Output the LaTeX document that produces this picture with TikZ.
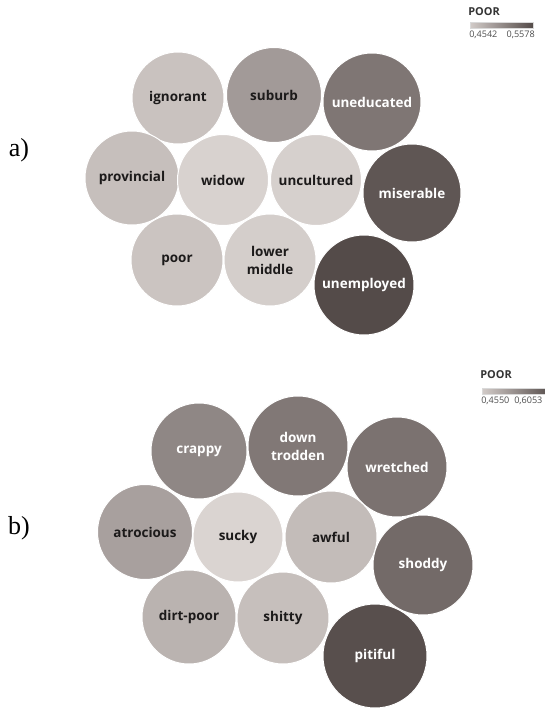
\documentclass[tikz,border=0pt]{standalone}
\usepackage{fontspec}
\setmainfont{Liberation Serif}
\newfontfamily\labfont{Open Sans}

% bubble fills, panel a
\definecolor{cIgn}{HTML}{C9C2BF}
\definecolor{cSub}{HTML}{A29A98}
\definecolor{cUne}{HTML}{7F7674}
\definecolor{cPro}{HTML}{C6BFBC}
\definecolor{cWid}{HTML}{D8D2CF}
\definecolor{cUnc}{HTML}{D6D0CD}
\definecolor{cMis}{HTML}{5F5654}
\definecolor{cPoo}{HTML}{CBC4C1}
\definecolor{cLow}{HTML}{D4CECB}
\definecolor{cUnm}{HTML}{544B49}
% bubble fills, panel b
\definecolor{cCra}{HTML}{8F8785}
\definecolor{cDow}{HTML}{817876}
\definecolor{cWre}{HTML}{7B7270}
\definecolor{cAtr}{HTML}{A8A09E}
\definecolor{cSuc}{HTML}{DAD4D1}
\definecolor{cAwf}{HTML}{C3BCB9}
\definecolor{cSho}{HTML}{736A68}
\definecolor{cDir}{HTML}{BAB3B0}
\definecolor{cShi}{HTML}{C6BFBC}
\definecolor{cPit}{HTML}{584F4D}
% legend
\definecolor{gLight}{HTML}{D2CBC8}
\definecolor{gDark}{HTML}{544B49}
\definecolor{darktext}{HTML}{1C1A1A}

\begin{document}
\begin{tikzpicture}[x=0.75pt,y=-0.75pt,
  bub/.style={circle, inner sep=0pt, minimum size=#1*1.5pt, draw=white,
    line width=0.75pt, align=center,
    font=\labfont\bfseries\fontsize{10.1}{13.5}\selectfont},
  dk/.style={text=darktext},
  lt/.style={text=white},
  panel/.style={font=\fontsize{19.5}{21}\selectfont, inner sep=0pt},
  legtitle/.style={anchor=west, inner sep=0pt, text=black!80,
    font=\labfont\bfseries\fontsize{8.2}{9}\selectfont},
  legnum/.style={inner sep=0pt, text=black!70,
    font=\labfont\fontsize{6.8}{8}\selectfont},
  legbar/.style={rectangle, inner sep=0pt, minimum width=63*0.75pt,
    minimum height=6*0.75pt, left color=gLight, right color=gDark,
    draw=black!15, line width=0.3pt},
]
\useasboundingbox (0,0) rectangle (544,711);

% ---- panel a ----
\node[panel] (la) at (19,150) {a)};

\node[bub=46,   fill=cIgn, dk] (ignorant)   at (178,98)  {ignorant};
\node[bub=47.5, fill=cSub, dk] (suburb)     at (274,95)  {suburb};
\node[bub=49,   fill=cUne, lt] (uneducated) at (372,102) {uneducated};
\node[bub=47,   fill=cPro, dk] (provincial) at (132,178) {provincial};
\node[bub=45.5, fill=cWid, dk] (widow)      at (223,180) {widow};
\node[bub=45.5, fill=cUnc, dk] (uncultured) at (316,180) {uncultured};
\node[bub=49,   fill=cMis, lt] (miserable)  at (412,193) {miserable};
\node[bub=46,   fill=cPoo, dk] (poor)       at (177,260) {poor};
\node[bub=46,   fill=cLow, dk] (lowmid)     at (270,260) {lower\\middle};
\node[bub=50,   fill=cUnm, lt] (unemployed) at (364,285) {unemployed};

\node[legtitle] (ta) at (468,12) {POOR};
\node[legbar] (ba) at (501.5,25) {};
\node[legnum, anchor=west] (loa) at (469,35) {0,4542};
\node[legnum, anchor=east] (hia) at (535,35) {0,5578};

% ---- panel b ----
\node[panel] (lb) at (19,528) {b)};

\node[bub=48,   fill=cCra, lt] (crappy)    at (199,451) {crappy};
\node[bub=50,   fill=cDow, lt] (downtrod)  at (298,446) {down\\trodden};
\node[bub=50,   fill=cWre, lt] (wretched)  at (397,467) {wretched};
\node[bub=47.5, fill=cAtr, dk] (atrocious) at (145,532) {atrocious};
\node[bub=45,   fill=cSuc, dk] (sucky)     at (238,537) {sucky};
\node[bub=46,   fill=cAwf, dk] (awful)     at (331,537) {awful};
\node[bub=50,   fill=cSho, lt] (shoddy)    at (423,565) {shoddy};
\node[bub=47,   fill=cDir, dk] (dirtpoor)  at (189,617) {dirt-poor};
\node[bub=46,   fill=cShi, dk] (shitty)    at (283,618) {shitty};
\node[bub=52,   fill=cPit, lt] (pitiful)   at (375,656) {pitiful};

\node[legtitle] (tb) at (480,375) {POOR};
\node[legbar, minimum width=70*0.75pt] (bb) at (517,391.5) {};
\node[legnum, anchor=west] (lob) at (481,401) {0,4550};
\node[legnum, anchor=west] (hib) at (514,401) {0,6053};
\end{tikzpicture}
\end{document}
